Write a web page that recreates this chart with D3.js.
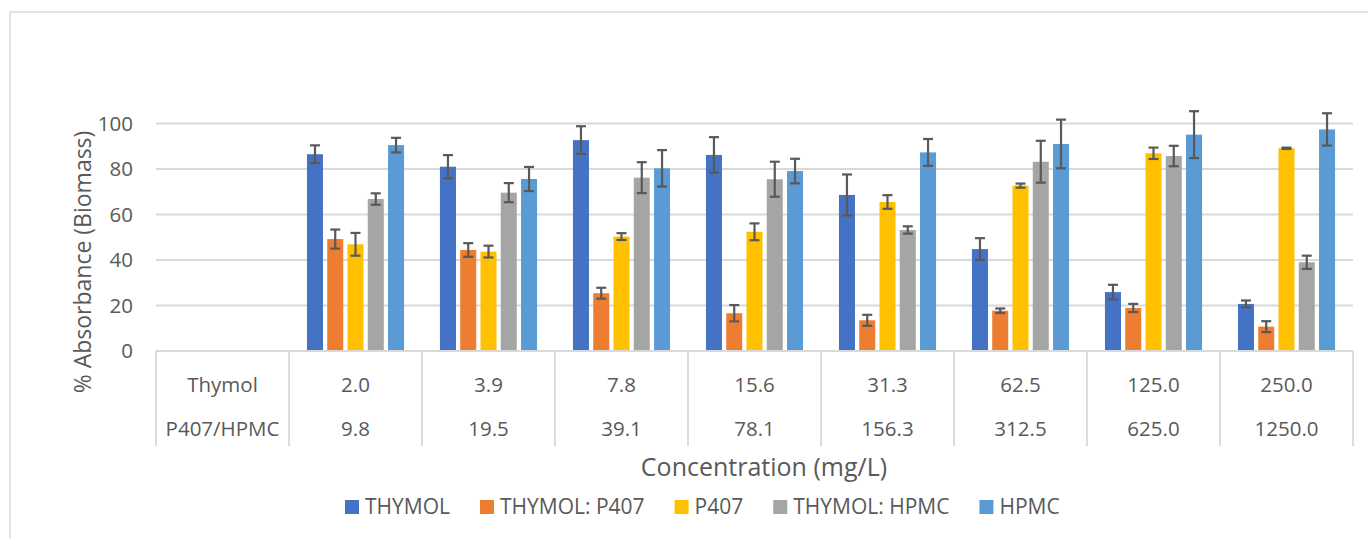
<!DOCTYPE html>
<html>
<head>
<meta charset="utf-8">
<script src="https://cdn.jsdelivr.net/npm/d3@7"></script>
<style>
  html, body { margin: 0; padding: 0; background: #ffffff; }
  svg { display: block; }
  text { font-family: "Open Sans", "Liberation Sans", sans-serif; fill: #595959; }
</style>
</head>
<body>
<svg id="chart" width="1368" height="538"></svg>
<script>
// ---- data ----
const thymolRow  = ["Thymol", "2.0", "3.9", "7.8", "15.6", "31.3", "62.5", "125.0", "250.0"];
const polymerRow = ["P407/HPMC", "9.8", "19.5", "39.1", "78.1", "156.3", "312.5", "625.0", "1250.0"];
const seriesNames = ["THYMOL", "THYMOL: P407", "P407", "THYMOL: HPMC", "HPMC"];
const seriesColors = ["#4472C4", "#ED7D31", "#FFC000", "#A5A5A5", "#5B9BD5"];
// first category is the row-label column (no data)
const thymolVals     = [null, 86.5, 81.0, 92.7, 86.2, 68.6, 44.8, 25.9, 20.7];
const thymolErr      = [null, 3.9, 5.1, 6.1, 7.8, 9.0, 4.8, 3.2, 1.5];
const thymolP407Vals = [null, 49.2, 44.4, 25.4, 16.6, 13.5, 17.7, 18.9, 10.7];
const thymolP407Err  = [null, 4.2, 3.0, 2.4, 3.6, 2.4, 1.0, 1.8, 2.4];
const p407Vals       = [null, 46.9, 43.7, 50.3, 52.4, 65.5, 72.7, 86.9, 89.1];
const p407Err        = [null, 5.0, 2.6, 1.5, 3.7, 3.0, 0.9, 2.5, 0.3];
const thymolHpmcVals = [null, 66.8, 69.6, 76.2, 75.5, 53.2, 83.2, 85.7, 39.0];
const thymolHpmcErr  = [null, 2.5, 4.2, 6.8, 7.7, 1.6, 9.2, 4.5, 2.9];
const hpmcVals       = [null, 90.5, 75.6, 80.3, 79.1, 87.3, 91.0, 95.1, 97.4];
const hpmcErr        = [null, 3.2, 5.3, 8.0, 5.4, 5.9, 10.7, 10.3, 7.1];
const yTicks = [0, 20, 40, 60, 80, 100];
const yTitle = "% Absorbance (Biomass)";
const xTitle = "Concentration (mg/L)";

const seriesVals = [thymolVals, thymolP407Vals, p407Vals, thymolHpmcVals, hpmcVals];
const seriesErrs = [thymolErr, thymolP407Err, p407Err, thymolHpmcErr, hpmcErr];

// ---- layout ----
const svg = d3.select("#chart");
const plot = { left: 156, right: 1353, top: 123.5, bottom: 351 };
const gridColor = "#d9d9d9";

// chart frame (only left/top visible in the crop)
svg.append("rect").attr("x", 10).attr("y", 12).attr("width", 1450).attr("height", 600)
  .attr("fill", "none").attr("stroke", gridColor).attr("stroke-width", 1.5);

const cats = d3.range(thymolRow.length);
const x0 = d3.scaleBand().domain(cats).range([plot.left, plot.right]).padding(0);
const W = x0.bandwidth();
const x1 = d3.scaleBand().domain(d3.range(seriesNames.length))
  .range([W / 2 - 0.365 * W, W / 2 + 0.365 * W]).paddingInner(0.21).paddingOuter(0);
const y = d3.scaleLinear().domain([0, 100]).range([plot.bottom, plot.top]);

// gridlines
svg.append("g").selectAll("line").data(yTicks.filter(t => t > 0)).join("line")
  .attr("x1", plot.left).attr("x2", plot.right)
  .attr("y1", d => y(d)).attr("y2", d => y(d))
  .attr("stroke", gridColor).attr("stroke-width", 1.8);

// y axis labels
const yAxis = d3.axisLeft(y).tickValues(yTicks).tickSize(0).tickPadding(23).tickFormat(d3.format("d"));
const gy = svg.append("g").attr("transform", `translate(${plot.left},0)`).call(yAxis);
gy.select(".domain").remove();
gy.selectAll("text").style("font-size", "20.5px").attr("fill", "#595959")
  .style("font-family", "'Open Sans', sans-serif");

// bars
const gBars = svg.append("g");
seriesNames.forEach((name, si) => {
  const data = cats.map(c => ({ c, v: seriesVals[si][c], e: seriesErrs[si][c] })).filter(d => d.v != null);
  gBars.append("g").selectAll("rect").data(data).join("rect")
    .attr("x", d => x0(d.c) + x1(si))
    .attr("width", x1.bandwidth())
    .attr("y", d => y(d.v))
    .attr("height", d => y(0) - y(d.v))
    .attr("fill", seriesColors[si]);
});

// error bars
const capW = 10;
const gErr = svg.append("g").attr("stroke", "#595959").attr("stroke-width", 2.2);
seriesNames.forEach((name, si) => {
  const data = cats.map(c => ({ c, v: seriesVals[si][c], e: seriesErrs[si][c] })).filter(d => d.v != null);
  const g = gErr.append("g");
  const cx = d => x0(d.c) + x1(si) + x1.bandwidth() / 2;
  g.selectAll("line.v").data(data).join("line").attr("class", "v")
    .attr("x1", cx).attr("x2", cx).attr("y1", d => y(d.v + d.e)).attr("y2", d => y(d.v - d.e));
  g.selectAll("line.t").data(data).join("line").attr("class", "t")
    .attr("x1", d => cx(d) - capW / 2).attr("x2", d => cx(d) + capW / 2)
    .attr("y1", d => y(d.v + d.e)).attr("y2", d => y(d.v + d.e));
  g.selectAll("line.b").data(data).join("line").attr("class", "b")
    .attr("x1", d => cx(d) - capW / 2).attr("x2", d => cx(d) + capW / 2)
    .attr("y1", d => y(d.v - d.e)).attr("y2", d => y(d.v - d.e));
});

// category axis (multi-level table)
const tableBottom = 446;
svg.append("line").attr("x1", plot.left).attr("x2", plot.right)
  .attr("y1", y(0)).attr("y2", y(0)).attr("stroke", gridColor).attr("stroke-width", 1.8);
const bounds = cats.map(c => x0(c)).concat([x0(cats[cats.length - 1]) + W]);
svg.append("g").selectAll("line").data(bounds).join("line")
  .attr("x1", d => d).attr("x2", d => d).attr("y1", y(0)).attr("y2", tableBottom)
  .attr("stroke", gridColor).attr("stroke-width", 1.8);
const row1Y = 385, row2Y = 429;
svg.append("g").selectAll("text").data(thymolRow).join("text")
  .attr("x", (d, i) => x0(i) + W / 2).attr("y", row1Y).attr("dy", "0.35em")
  .attr("text-anchor", "middle").style("font-size", "20.5px").text(d => d);
svg.append("g").selectAll("text").data(polymerRow).join("text")
  .attr("x", (d, i) => x0(i) + W / 2).attr("y", row2Y).attr("dy", "0.35em")
  .attr("text-anchor", "middle").style("font-size", "20.5px").text(d => d);

// axis titles
svg.append("text").attr("x", 764).attr("y", 467).attr("dy", "0.35em")
  .attr("text-anchor", "middle").style("font-size", "25px").text(xTitle);
svg.append("text").attr("transform", "translate(83,262) rotate(-90)").attr("dy", "0.35em")
  .attr("text-anchor", "middle").style("font-size", "23px").text(yTitle);

// legend
const legend = svg.append("g").attr("transform", "translate(345,507)");
let lx = 0;
seriesNames.forEach((name, si) => {
  const g = legend.append("g").attr("transform", `translate(${lx},0)`);
  g.append("rect").attr("x", 0).attr("y", -7).attr("width", 14).attr("height", 14).attr("fill", seriesColors[si]);
  const t = g.append("text").attr("x", 20).attr("y", 0).attr("dy", "0.35em")
    .style("font-size", "21px").text(name);
  lx += 20 + t.node().getComputedTextLength() + 30;
});
</script>
</body>
</html>
